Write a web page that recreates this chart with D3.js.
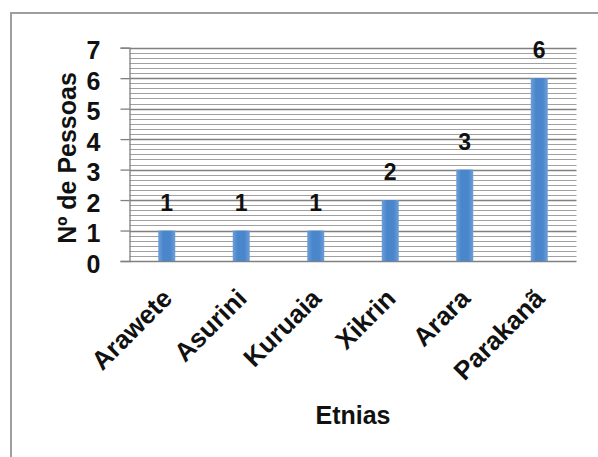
<!DOCTYPE html>
<html>
<head>
<meta charset="utf-8">
<script src="https://cdn.jsdelivr.net/npm/d3@7"></script>
<style>
  html, body { margin: 0; padding: 0; background: #fff; }
  svg { display: block; font-family: "Liberation Sans", Arial, sans-serif; font-weight: bold; }
</style>
</head>
<body>
<svg id="chart" width="598" height="457"></svg>
<script>
// Etnias e número de pessoas
const categories = ["Arawete", "Asurini", "Kuruaia", "Xikrin", "Arara", "Parakanã"];
const values = [1, 1, 1, 2, 3, 6];
const yTicks = [0, 1, 2, 3, 4, 5, 6, 7];
const yTitle = "Nº de Pessoas";
const xTitle = "Etnias";

const svg = d3.select("#chart");
const W = 598, H = 457;
const plot = { left: 129.5, right: 576.5, top: 47.7, bottom: 261 };

// outer frame (top and left edges visible)
svg.append("line").attr("x1", 11).attr("x2", W).attr("y1", 13).attr("y2", 13)
  .attr("stroke", "#9e9e9e").attr("stroke-width", 2);
svg.append("line").attr("x1", 11).attr("x2", 11).attr("y1", 12).attr("y2", H)
  .attr("stroke", "#9e9e9e").attr("stroke-width", 2);

const x = d3.scaleBand().domain(categories).range([plot.left, plot.right]).paddingInner(0).paddingOuter(0);
const y = d3.scaleLinear().domain([0, 7]).range([plot.bottom, plot.top]);

// bar gradient
const defs = svg.append("defs");
const grad = defs.append("linearGradient").attr("id", "barGrad")
  .attr("x1", "0%").attr("x2", "100%").attr("y1", "0%").attr("y2", "0%");
grad.append("stop").attr("offset", "0%").attr("stop-color", "#6e9fd8");
grad.append("stop").attr("offset", "30%").attr("stop-color", "#4a86cc");
grad.append("stop").attr("offset", "70%").attr("stop-color", "#4a86cc");
grad.append("stop").attr("offset", "100%").attr("stop-color", "#6e9fd8");

// minor gridlines
const minor = d3.range(0, 7 * 6 + 1).map(i => i / 6).filter(v => Math.abs(v - Math.round(v)) > 1e-6);
svg.append("g").selectAll("line").data(minor).join("line")
  .attr("x1", plot.left).attr("x2", plot.right)
  .attr("y1", d => Math.round(y(d)) + 0.5).attr("y2", d => Math.round(y(d)) + 0.5)
  .attr("stroke", "#a0a0a0").attr("stroke-width", 1);

// major gridlines
svg.append("g").selectAll("line").data(yTicks).join("line")
  .attr("x1", plot.left).attr("x2", plot.right)
  .attr("y1", d => Math.round(y(d)) + 0.5).attr("y2", d => Math.round(y(d)) + 0.5)
  .attr("stroke", "#808080").attr("stroke-width", 1.3);

// y axis
const yAxis = d3.axisLeft(y).tickValues(yTicks).tickSize(9).tickPadding(20).tickFormat(d3.format("d"));
const gy = svg.append("g").attr("transform", `translate(${plot.left},0)`).call(yAxis);
gy.select(".domain").attr("stroke", "#808080").attr("stroke-width", 1.3);
gy.selectAll(".tick line").attr("stroke", "#808080").attr("stroke-width", 1.3);
gy.selectAll(".tick text").attr("font-size", 25).attr("font-weight", "bold")
  .attr("font-family", "'Liberation Sans', Arial, sans-serif").attr("fill", "#111").attr("dy", "0.45em");

// bars
const bw = 17;
svg.append("g").selectAll("rect").data(values).join("rect")
  .attr("x", (d, i) => x(categories[i]) + x.bandwidth() / 2 - bw / 2)
  .attr("width", bw)
  .attr("y", d => y(d))
  .attr("height", d => y(0) - y(d))
  .attr("fill", "url(#barGrad)");

// value labels
svg.append("g").selectAll("text").data(values).join("text")
  .attr("x", (d, i) => x(categories[i]) + x.bandwidth() / 2)
  .attr("y", d => y(d) - 20)
  .attr("text-anchor", "middle")
  .attr("font-size", 23).attr("fill", "#111")
  .text(d => d);

// category labels
svg.append("g").selectAll("text").data(categories).join("text")
  .attr("transform", d => `translate(${x(d) + x.bandwidth() / 2 + 7},${plot.bottom + 39}) rotate(-45)`)
  .attr("text-anchor", "end")
  .attr("font-size", 26).attr("fill", "#111")
  .text(d => d);

// axis titles
svg.append("text").attr("x", 353).attr("y", 424).attr("text-anchor", "middle")
  .attr("font-size", 25).attr("fill", "#111").text(xTitle);
svg.append("text").attr("transform", "translate(76,158) rotate(-90)")
  .attr("text-anchor", "middle").attr("font-size", 25).attr("fill", "#111").text(yTitle);
</script>
</body>
</html>
